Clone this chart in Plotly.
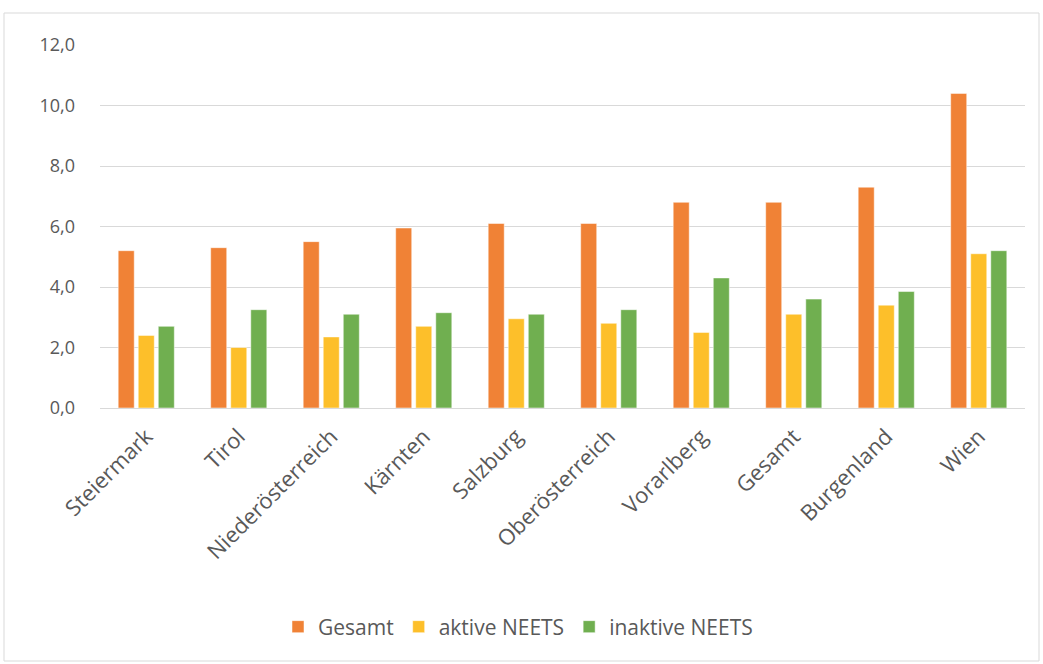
import plotly.graph_objects as go

categories = ["Steiermark", "Tirol", "Niederösterreich", "Kärnten", "Salzburg",
              "Oberösterreich", "Vorarlberg", "Gesamt", "Burgenland", "Wien"]
gesamt = [5.2, 5.3, 5.5, 5.95, 6.1, 6.1, 6.8, 6.8, 7.3, 10.4]
aktive = [2.4, 2.0, 2.35, 2.7, 2.95, 2.8, 2.5, 3.1, 3.4, 5.1]
inaktive = [2.7, 3.25, 3.1, 3.15, 3.1, 3.25, 4.3, 3.6, 3.85, 5.2]

series = [("Gesamt", gesamt, "#F08236"), ("aktive NEETS", aktive, "#FDBF2A"),
          ("inaktive NEETS", inaktive, "#70AF50")]

fig = go.Figure()
for name, vals, col in series:
    fig.add_trace(go.Bar(x=categories, y=vals, name=name, marker_color=col,
                         marker_line_color="white", marker_line_width=0.5))

W, H = 1043, 664
L, R, T, B = 100, 18, 45, 256
pw, ph = W - L - R, H - T - B

def px(x):
    return (x - L) / pw

def py(y):
    return (H - B - y) / ph

fig.update_layout(
    width=W, height=H, autosize=False,
    margin=dict(l=L, r=R, t=T, b=B),
    paper_bgcolor="white", plot_bgcolor="white",
    separators=",.",
    barmode="group", bargap=0.35, bargroupgap=0.2,
    font=dict(family="Open Sans, Liberation Sans, sans-serif", size=19, color="#595959"),
    legend=dict(orientation="h", x=px(518), xanchor="center", y=py(627), yanchor="middle",
                font=dict(size=21, color="#595959"), itemwidth=30, traceorder="normal"),
    showlegend=True,
    shapes=[dict(type="rect", xref="paper", yref="paper",
                 x0=px(4), x1=px(1039), y0=py(661), y1=py(13),
                 line=dict(color="#d9d9d9", width=1), layer="below")],
)
fig.update_yaxes(range=[0, 12], dtick=2, tickformat=".1f", showgrid=True,
                 gridcolor="#d9d9d9", gridwidth=1, zeroline=False, showline=False,
                 ticks="", ticklabelstandoff=24, tickfont=dict(size=18))
fig.update_xaxes(tickangle=-45, showline=True, linecolor="#d9d9d9", linewidth=1,
                 ticks="", showgrid=False, tickfont=dict(size=22), ticklabelstandoff=6)

fig.write_html("out.html")
